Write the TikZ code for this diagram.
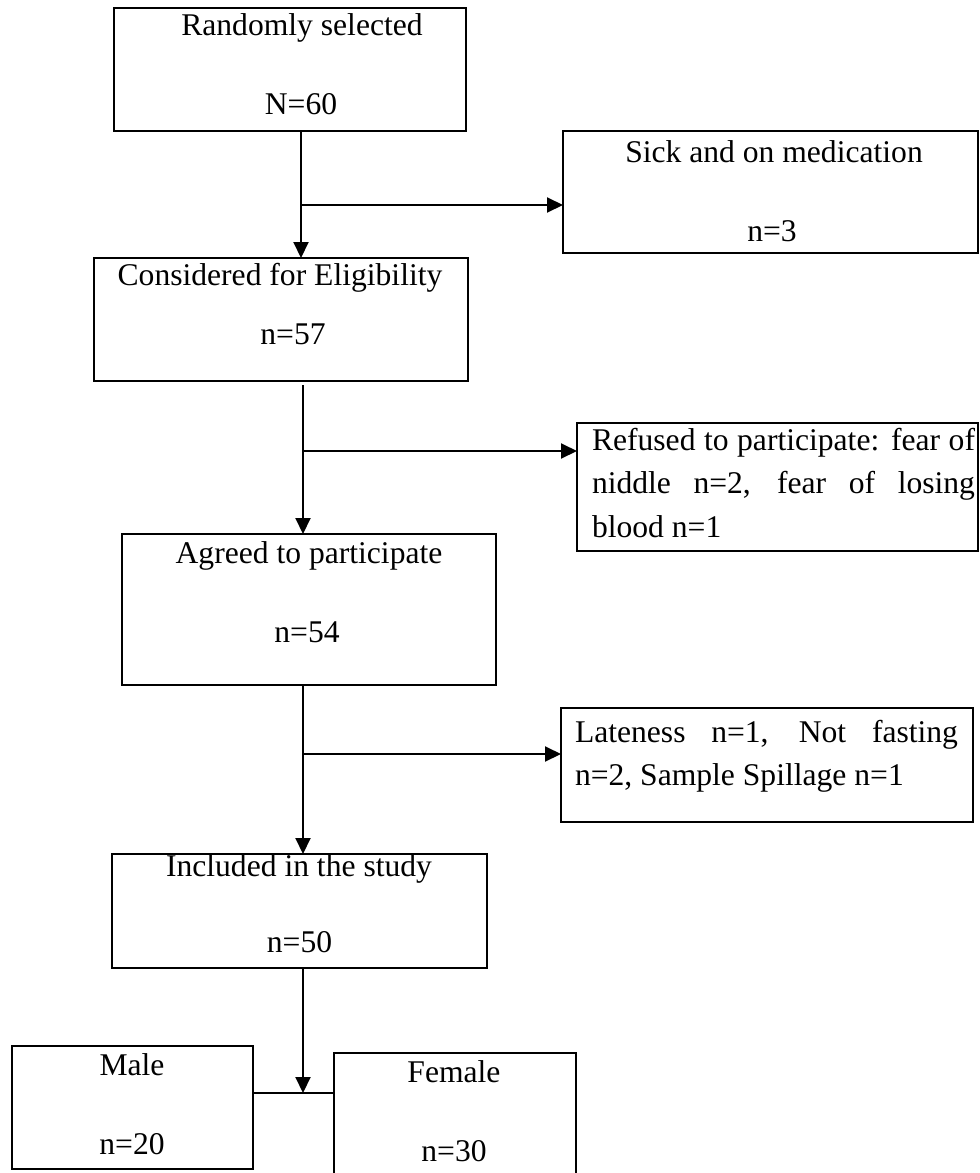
\documentclass[tikz,border=0pt]{standalone}
\usepackage{fontspec}
\setmainfont{Liberation Serif}
\usetikzlibrary{arrows.meta}

\begin{document}
\begin{tikzpicture}[x=0.5pt, y=-0.5pt, inner sep=0pt, outer sep=0pt,
  box/.style={draw=black, line width=1.3pt, rectangle},
  lbl/.style={font=\fontsize{15.8}{21.75}\selectfont},
  para/.style={lbl, anchor=north west, text width=191.5pt, align=justify},
  flow/.style={line width=1pt, -{Triangle[length=8pt,width=7.5pt]}},
  link/.style={line width=1pt}]
\useasboundingbox (0,0) rectangle (980,1173);
\clip (0,0) rectangle (980,1173);
  \node[box, minimum width=176pt, minimum height=61.5pt] (sel) at (290,69.5) {};
  \node[box, minimum width=207.5pt, minimum height=61pt] (sick) at (770.5,192) {};
  \node[box, minimum width=187pt, minimum height=61.5pt] (elig) at (281,319.5) {};
  \node[box, minimum width=200.5pt, minimum height=64pt] (refuse) at (777.5,487) {};
  \node[box, minimum width=187pt, minimum height=75.5pt] (agree) at (309,609.5) {};
  \node[box, minimum width=206pt, minimum height=57pt] (late) at (767,765) {};
  \node[box, minimum width=187.5pt, minimum height=57pt] (incl) at (299.5,911) {};
  \node[box, minimum width=120.5pt, minimum height=61.5pt] (male) at (132.5,1107.5) {};
  \node[box, minimum width=121pt, minimum height=68.5pt] (female) at (455,1121.5) {};

  \node[lbl] (sel-t) at (302,27.5) {Randomly selected};
  \node[lbl] (sel-n) at (301,104.5) {N=60};
  \node[lbl] (sick-t) at (774,152) {Sick and on medication};
  \node[lbl] (sick-n) at (772,231) {n=3};
  \node[lbl] (elig-t) at (280,278) {Considered for Eligibility};
  \node[lbl] (elig-n) at (293,334.5) {n=57};
  \node[para] (refuse-t) at (592,428) {Refused to participate: fear of\linebreak niddle n=2, fear of losing\linebreak blood n=1};
  \node[lbl] (agree-t) at (309,556) {Agreed to participate};
  \node[lbl] (agree-n) at (307,632.5) {n=54};
  \node[para] (late-t) at (575,720) {Lateness n=1, Not fasting\linebreak n=2, Sample Spillage n=1};
  \node[lbl] (incl-t) at (299,869) {Included in the study};
  \node[lbl] (incl-n) at (299.5,942.5) {n=50};
  \node[lbl] (male-t) at (132,1064.5) {Male};
  \node[lbl] (male-n) at (132,1144.5) {n=20};
  \node[lbl] (female-t) at (454,1071.5) {Female};
  \node[lbl] (female-n) at (454,1151.5) {n=30};

  \coordinate (s1) at (301,205);
  \coordinate (s2) at (303,451);
  \coordinate (s3) at (303,754);
  \coordinate (s4) at (303,1093);

  \draw[flow] (s1 |- sel.south) -- (s1 |- elig.north);
  \draw[flow] (s1) -- (s1 -| sick.west);
  \draw[flow] ([yshift=-2pt]s2 |- elig.south) -- (s2 |- agree.north);
  \draw[flow] (s2) -- (s2 -| refuse.west);
  \draw[flow] (s3 |- agree.south) -- (s3 |- incl.north);
  \draw[flow] (s3) -- (s3 -| late.west);
  \draw[flow] (s4 |- incl.south) -- (s4);
  \draw[link] (male.east |- s4) -- (female.west |- s4);
\end{tikzpicture}
\end{document}
